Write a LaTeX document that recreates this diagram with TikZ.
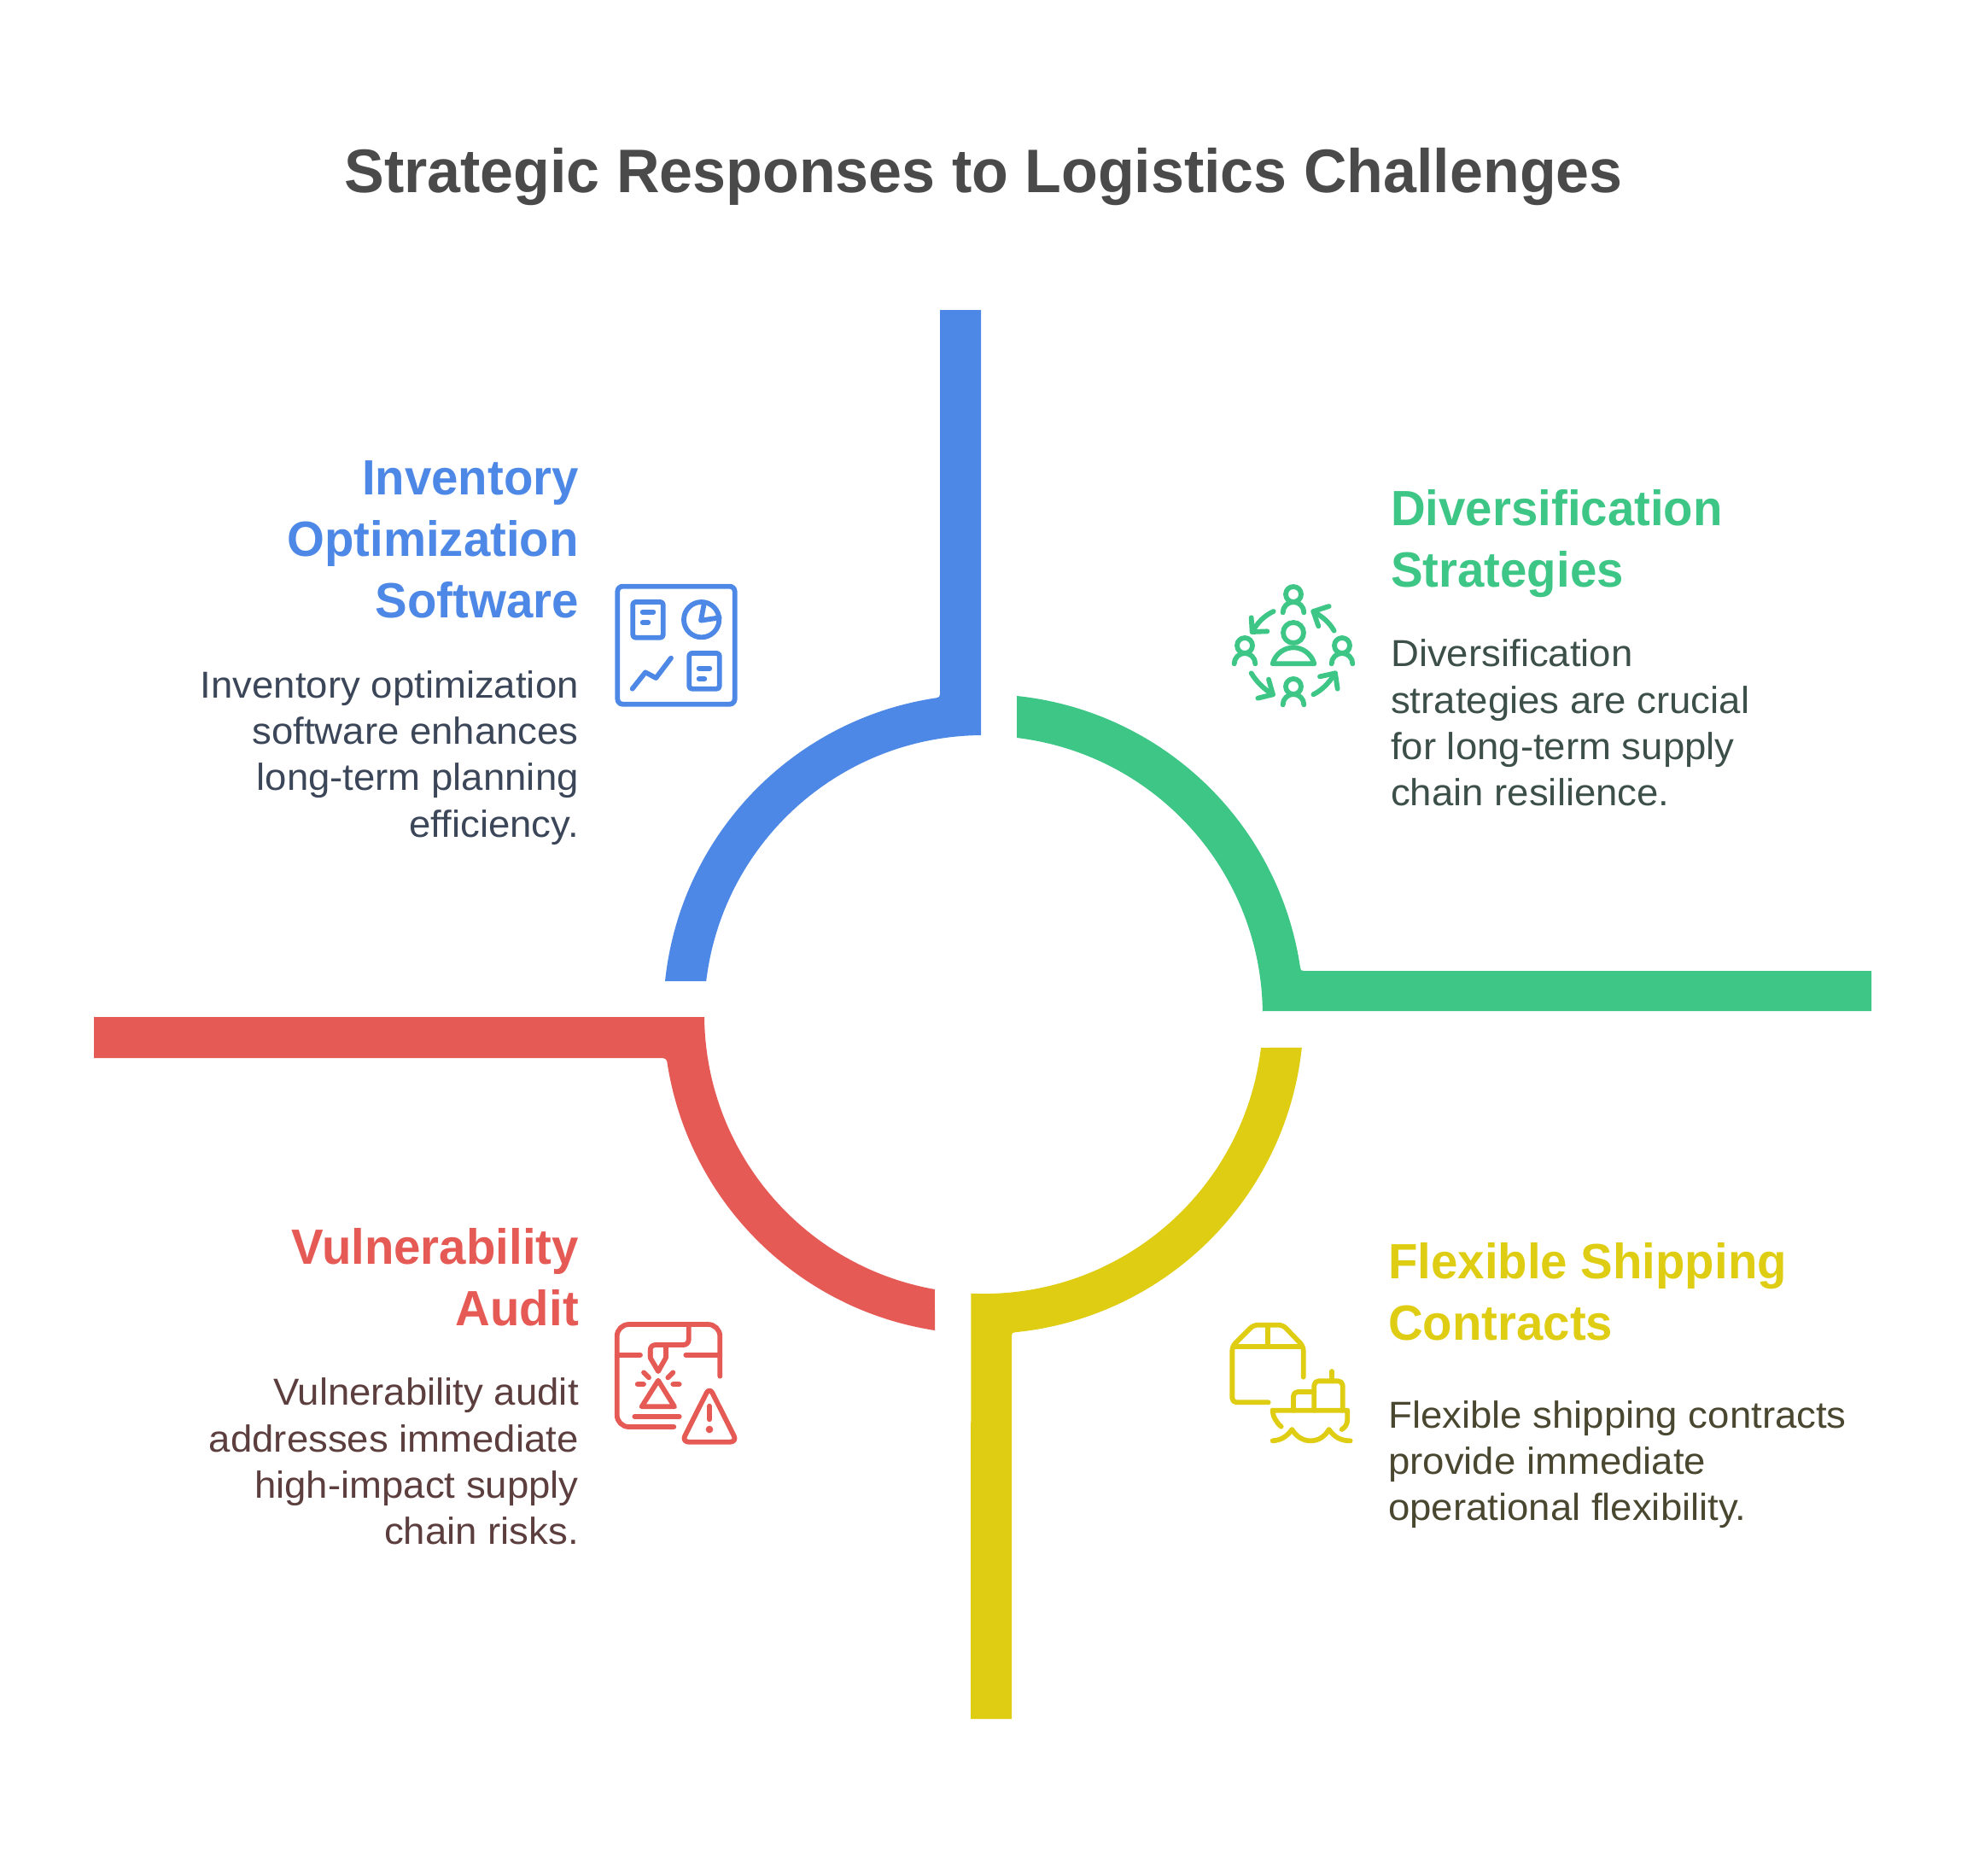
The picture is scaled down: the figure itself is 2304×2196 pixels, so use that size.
\documentclass[tikz,border=0pt]{standalone}
\usepackage{fontspec}
\setmainfont{Liberation Sans}
\newfontfamily\boldstretch[FakeStretch=0.972]{Liberation Sans}
\newfontfamily\descstretch[FakeStretch=1.035]{Liberation Sans}
\definecolor{cblue}{HTML}{4E88E7}
\definecolor{cgreen}{HTML}{3DC685}
\definecolor{cred}{HTML}{E65A55}
\definecolor{cyellow}{HTML}{DFCD13}
\definecolor{tblue}{HTML}{3B4659}
\definecolor{tgreen}{HTML}{3C4F49}
\definecolor{tred}{HTML}{5C3E3E}
\definecolor{tyellow}{HTML}{4A4731}
\definecolor{ctitle}{HTML}{4A4A4A}
\tikzset{
  titletext/.style={font=\boldstretch\fontsize{72}{86}\selectfont\bfseries,text=ctitle,inner sep=0pt},
  headtext/.style={font=\boldstretch\fontsize{58}{72}\selectfont\bfseries,inner sep=0pt},
  desctext/.style={font=\descstretch\fontsize{44}{54.2}\selectfont,inner sep=0pt},
  iconline/.style={line width=5.8pt,line cap=round,line join=round,fill=none},
  icon/.style={shift={(#1)},x=0.3333pt,y=-0.3333pt},
}
\begin{document}
\begin{tikzpicture}[x=1pt,y=-1pt]
\useasboundingbox (0,0) rectangle (2304,2196);
\coordinate (c) at (1152,1188);

\node[titletext,anchor=base] (title) at (1152,225) {Strategic Responses to Logistics Challenges};

% ring segments
\fill[cblue] (1149,861) arc[start angle=269.5,end angle=186.84,radius=327] -- (779,1149)
  arc[start angle=186,end angle=261.57,radius=375] .. controls (1100,816.8) and (1101,816) .. (1101,813)
  -- (1101,363) -- (1149,363) -- cycle;
\fill[cgreen] (1191,864) arc[start angle=-83.14,end angle=-0.5,radius=327] -- (1479,1184)
  -- (2192,1184) -- (2192,1137) -- (1527,1137) .. controls (1524,1137) and (1523.3,1136) .. (1523,1133)
  arc[start angle=-8.43,end angle=-84.03,radius=375] -- cycle;
\fill[cyellow] (1477,1227) arc[start angle=6.84,end angle=92.63,radius=327] -- (1137,2013)
  -- (1185,2013) -- (1185,1564) .. controls (1185,1561) and (1186,1560.5) .. (1189,1560.2)
  arc[start angle=84.33,end angle=6.1,radius=375] -- cycle;
\fill[cred] (110,1191) -- (825,1191) arc[start angle=179.47,end angle=100.04,radius=327]
  -- (1095,1558) arc[start angle=98.76,end angle=171.57,radius=375]
  .. controls (780,1240.5) and (779,1239) .. (776,1239) -- (110,1239) -- cycle;

% blue text
\node[headtext,text=cblue,align=right,anchor=base east] (h1) at (678,723) {Inventory\\Optimization\\Software};
\node[desctext,text=tblue,align=right,anchor=base east] (d1) at (678,980) {Inventory optimization\\software enhances\\long-term planning\\efficiency.};
% green text
\node[headtext,text=cgreen,align=left,anchor=base west] (h2) at (1629,687) {Diversification\\Strategies};
\node[desctext,text=tgreen,align=left,anchor=base west] (d2) at (1629,943.5) {Diversification\\strategies are crucial\\for long-term supply\\chain resilience.};
% yellow text
\node[headtext,text=cyellow,align=left,anchor=base west] (h3) at (1626,1569) {Flexible Shipping\\Contracts};
\node[desctext,text=tyellow,align=left,anchor=base west] (d3) at (1626,1780.5) {Flexible shipping contracts\\provide immediate\\operational flexibility.};
% red text
\node[headtext,text=cred,align=right,anchor=base east] (h4) at (678,1552) {Vulnerability\\Audit};
\node[desctext,text=tred,align=right,anchor=base east] (d4) at (678,1808.5) {Vulnerability audit\\addresses immediate\\high-impact supply\\chain risks.};

% blue icon
\begin{scope}[icon={700,660},cblue]
\draw[iconline,rounded corners=6pt] (70,80) rectangle (482,494);
\draw[iconline,rounded corners=3pt] (124,135) rectangle (230,260);
\draw[iconline] (158,170) -- (196,170) (158,207) -- (178,207);
\draw[iconline] (365,197) circle[radius=62];
\draw[iconline] (375,137) -- (363,200) -- (428,190);
\draw[iconline,rounded corners=3pt] (322,315) rectangle (428,440);
\draw[iconline] (356,368) -- (394,368) (356,405) -- (376,405);
\draw[iconline] (122,440) -- (168,382) -- (205,402) -- (258,332);
\end{scope}

% green icon
\begin{scope}[icon={1420,660},cgreen]
\foreach \px/\py in {285/108,114/288,456/288,285/432}{
  \draw[iconline] (\px,\py) circle[radius=27];
  \draw[iconline] (\px-37,\py+64) arc[start angle=180,end angle=360,radius=37];
}
\draw[iconline] (285,243) circle[radius=36];
\draw[iconline] (212,352) .. controls (222,315) and (255,295) .. (285,295) .. controls (315,295) and (348,315) .. (358,352) -- cycle;
\draw[iconline] (428,236) .. controls (410,205) and (385,185) .. (355,168);
\draw[iconline] (410,150) -- (355,168) -- (373,220);
\draw[iconline] (215,168) .. controls (185,182) and (160,205) .. (140,240);
\draw[iconline] (137,190) -- (140,240) -- (193,238);
\draw[iconline] (137,385) .. controls (155,415) and (180,440) .. (213,460);
\draw[iconline] (198,407) -- (213,460) -- (160,473);
\draw[iconline] (355,460) .. controls (385,445) and (410,420) .. (432,385);
\draw[iconline] (378,397) -- (432,385) -- (440,440);
\end{scope}

% red icon
\begin{scope}[icon={700,1530},cred]
\draw[iconline] (430,245) -- (430,105) arc[start angle=0,end angle=-90,radius=42] -- (110,63) arc[start angle=270,end angle=180,radius=42] -- (68,381) arc[start angle=180,end angle=90,radius=42] -- (268,423);
\draw[iconline] (68,170) -- (150,170) (310,170) -- (430,170);
\draw[iconline,rounded corners=6pt] (320,63) -- (320,135) -- (185,135) -- (185,175);
\draw[iconline] (185,155) -- (185,180) -- (213,228) -- (240,180) -- (240,135);
\draw[iconline] (162,232) -- (180,250) (265,232) -- (247,250) (140,273) -- (162,273) (265,273) -- (287,273);
\draw[iconline] (213,260) -- (270,352) -- (155,352) -- cycle;
\draw[iconline] (130,387) -- (287,387);
\draw[iconline,rounded corners=8pt] (393,283) -- (490,476) -- (296,476) -- cycle;
\draw[iconline] (393,350) -- (393,397);
\fill (393,432) circle[radius=13];
\end{scope}

% yellow icon
\begin{scope}[icon={1420,1530},cyellow]
\draw[iconline,rounded corners=5pt] (320,248) -- (320,140) -- (248,65) -- (145,65) -- (70,140) -- (70,337) -- (197,337);
\draw[iconline] (80,140) -- (312,140) (195,65) -- (195,140);
\draw[iconline] (212,365) -- (475,365) -- (475,395) .. controls (475,412) and (468,425) .. (455,432);
\draw[iconline] (212,365) .. controls (212,385) and (225,408) .. (242,422);
\draw[iconline] (212,472) .. controls (240,470) and (262,458) .. (280,432) .. controls (295,458) and (320,472) .. (345,472) .. controls (372,472) and (395,458) .. (410,432) .. controls (428,458) and (450,472) .. (485,472);
\draw[iconline,rounded corners=5pt] (285,365) -- (285,300) -- (358,300);
\draw[iconline,rounded corners=5pt] (358,365) -- (358,262) -- (458,262) -- (458,365);
\draw[iconline] (420,262) -- (420,228);
\end{scope}
\end{tikzpicture}
\end{document}
